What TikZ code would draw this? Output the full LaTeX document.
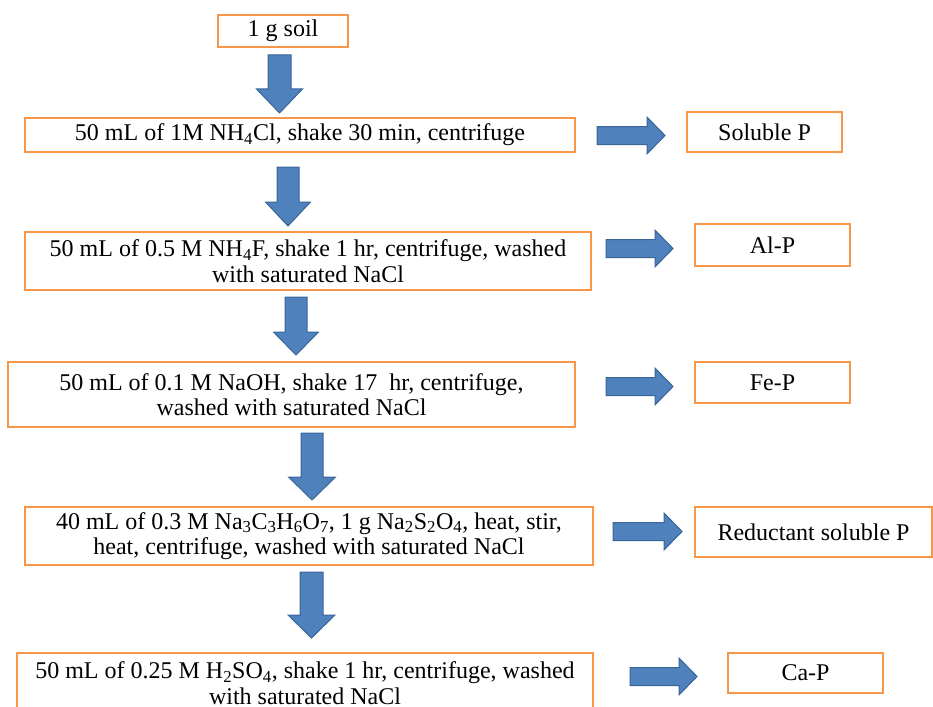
\documentclass[tikz,border=0pt]{standalone}
\usepackage{fontspec}
\setmainfont{Liberation Serif}
\definecolor{boxorange}{HTML}{F79646}
\definecolor{arrfill}{HTML}{4F81BD}
\definecolor{arrdraw}{HTML}{3A6597}
\newcommand\downarr[6]{% cx, top, shaft half, head half, head start, tip
  \fill[arrfill,draw=arrdraw,line width=1pt,line join=miter]
    (#1-#3,#2) -- (#1+#3,#2) -- (#1+#3,#5) -- (#1+#4,#5) -- (#1,#6)
    -- (#1-#4,#5) -- (#1-#3,#5) -- cycle;}
\newcommand\rightarr[6]{% x0, x1, cy, shaft half, head half, head start
  \fill[arrfill,draw=arrdraw,line width=1pt,line join=miter]
    (#1,#3-#4) -- (#6,#3-#4) -- (#6,#3-#5) -- (#2,#3) -- (#6,#3+#5)
    -- (#6,#3+#4) -- (#1,#3+#4) -- cycle;}
\begin{document}
\begin{tikzpicture}[x=1pt,y=-1pt,
  pbox/.style={draw=boxorange, line width=2.2pt, fill=white, inner sep=0pt,
    align=center, font=\fontsize{24}{25.5}\selectfont}]
\useasboundingbox (0,0) rectangle (933,706);
\clip (0,0) rectangle (933,706);
\fill[white] (0,0) rectangle (933,706);
% left column
\node[pbox, minimum width=130pt, minimum height=32pt] (soil) at (283,31) {1 g soil};
\node[pbox, minimum width=550pt, minimum height=34pt] (b2) at (300,135)
  {50 mL of 1M NH\textsubscript{4}Cl, shake 30 min, centrifuge};
\node[pbox, minimum width=566pt, minimum height=58pt] (b3) at (308,261)
  {50 mL of 0.5 M NH\textsubscript{4}F, shake 1 hr, centrifuge, washed\\with saturated NaCl};
\node[pbox, minimum width=567pt, minimum height=65pt] (b4) at (291.5,394.5)
  {50 mL of 0.1 M NaOH, shake 17\ \ hr, centrifuge,\\washed with saturated NaCl};
\node[pbox, minimum width=568pt, minimum height=58pt] (b5) at (309,536)
  {40 mL of 0.3 M Na\textsubscript{3}C\textsubscript{3}H\textsubscript{6}O\textsubscript{7}, 1 g Na\textsubscript{2}S\textsubscript{2}O\textsubscript{4}, heat, stir,\\heat, centrifuge, washed with saturated NaCl};
\node[pbox, minimum width=576pt, minimum height=60pt] (b6) at (305,683)
  {50 mL of 0.25 M H\textsubscript{2}SO\textsubscript{4}, shake 1 hr, centrifuge, washed\\with saturated NaCl};
% right column
\node[pbox, minimum width=155pt, minimum height=40pt] (r1) at (764.5,132) {Soluble P};
\node[pbox, minimum width=155pt, minimum height=42pt] (r2) at (772.5,245) {Al-P};
\node[pbox, minimum width=155pt, minimum height=41pt] (r3) at (772.5,382.5) {Fe-P};
\node[pbox, minimum width=237pt, minimum height=50pt] (r4) at (813.5,532) {Reductant soluble P};
\node[pbox, minimum width=155pt, minimum height=40pt] (r5) at (805.5,673) {Ca-P};
% down arrows
\downarr{279.5}{55}{11.5}{23}{89}{113}
\downarr{288}{167}{11}{22.5}{202}{226}
\downarr{296}{297}{11}{22.5}{332}{355}
\downarr{312}{433}{11}{23.5}{477}{500}
\downarr{311.5}{572}{11.5}{23.5}{615}{638}
% right arrows
\rightarr{597}{665}{135.5}{9}{18.5}{647}
\rightarr{606}{673}{248.5}{9}{18.5}{655}
\rightarr{606}{673}{386.5}{9}{18.5}{655}
\rightarr{613}{682}{531.5}{9}{18.5}{664}
\rightarr{630}{697}{676.5}{9}{18.5}{679}
\end{tikzpicture}
\end{document}
